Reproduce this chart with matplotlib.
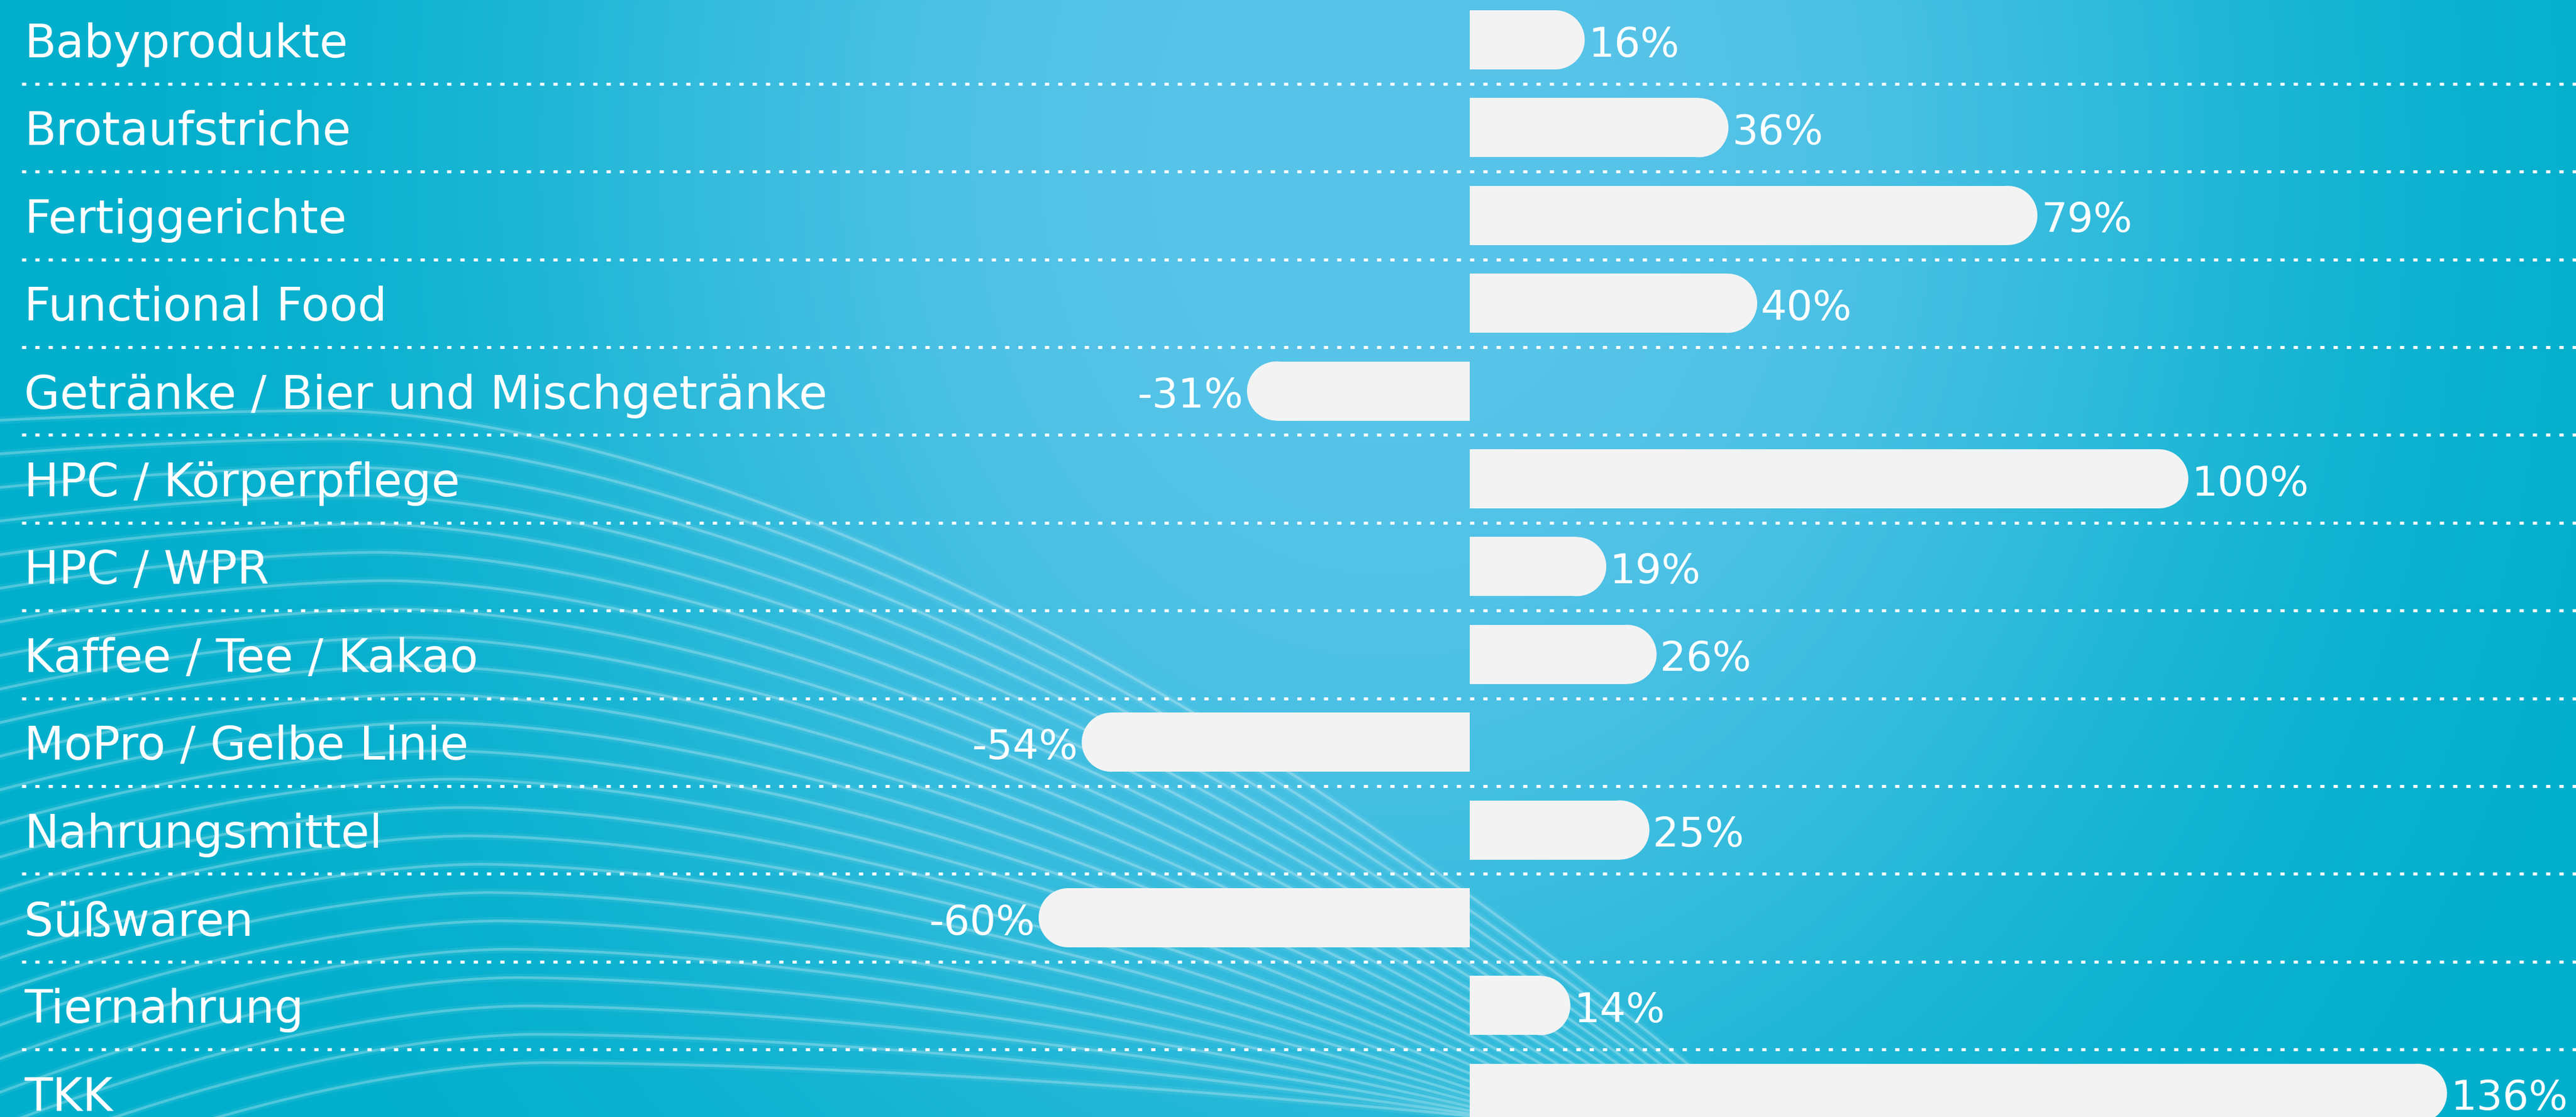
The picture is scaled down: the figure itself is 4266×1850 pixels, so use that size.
import numpy as np
import matplotlib.pyplot as plt
from matplotlib.patches import Ellipse

# 데이터
categories = ['Babyprodukte', 'Brotaufstriche', 'Fertiggerichte', 'Functional Food',
              'Getränke / Bier und Mischgetränke', 'HPC / Körperpflege', 'HPC / WPR',
              'Kaffee / Tee / Kakao', 'MoPro / Gelbe Linie', 'Nahrungsmittel',
              'Süßwaren', 'Tiernahrung', 'TKK']
values = [16, 36, 79, 40, -31, 100, 19, 26, -54, 25, -60, 14, 136]
value_labels = ['16%', '36%', '79%', '40%', '-31%', '100%', '19%', '26%', '-54%',
                '25%', '-60%', '14%', '136%']

W, H = 4266, 1850
DPI = 100
teal = np.array([0, 175, 204]) / 255
light = np.array([88, 196, 233]) / 255
bar_color = '#f3f3f3'
font = ['DejaVu Sans']

fig = plt.figure(figsize=(W / DPI, H / DPI), dpi=DPI)

# 배경 (그라데이션 + 곡선 장식)
bg = fig.add_axes([0, 0, 1, 1])
bg.set_xlim(0, W)
bg.set_ylim(H, 0)
bg.axis('off')
gx, gy = np.meshgrid(np.linspace(0, W, 427), np.linspace(0, H, 185))
d = ((gx - 2300) / 1400) ** 2 + ((gy - 250) / 1700) ** 2
w = np.exp(-d ** 1.5)
img = teal[None, None, :] + (light - teal)[None, None, :] * w[:, :, None]
bg.imshow(img, extent=(0, W, H, 0), aspect='auto', interpolation='bilinear', zorder=0)

# 장식용 곡선 (왼쪽 아래 물결)
n_curves = 24
xs = np.linspace(0, 3300, 900)
for k in range(n_curves):
    t = k / (n_curves - 1)
    c = 550 + 350 * t
    p = 680 + 1080 * t
    x_end = 2900 - 450 * t
    kr = (1850 - p) / (x_end - c) ** 1.7
    kl = (16 + 200 * t) / c ** 1.7
    u = xs - c
    ys = np.where(u > 0, p + kr * np.abs(u) ** 1.7, p + kl * np.abs(u) ** 1.7)
    bg.plot(xs, ys, color='white', alpha=0.07, lw=9, zorder=1)
    bg.plot(xs, ys, color='white', alpha=0.26, lw=3.2, zorder=1)

# 메인 차트
ax = fig.add_axes([0, 0, 1, 1])
ax.patch.set_alpha(0)
px_per_unit = 11.9
row_px = 145.4
zero_px = 2434
ax.set_xlim(-zero_px / px_per_unit, (W - zero_px) / px_per_unit)
ax.set_ylim((H - 66) / row_px, -66 / row_px)
ax.axis('off')

bar_h = 98 / row_px
rx = 49 / px_per_unit
y = np.arange(len(categories))

for yi, v, lab, cat in zip(y, values, value_labels, categories):
    s = np.sign(v)
    ax.barh(yi, v - s * rx, height=bar_h, color=bar_color, zorder=3)
    ax.add_patch(Ellipse((v - s * rx, yi), 2 * rx, bar_h, color=bar_color, lw=0, zorder=3))
    gap = 0.5
    ax.text(v + s * gap, yi + 0.19, lab, ha='left' if v > 0 else 'right', va='baseline',
            color='white', fontsize=49, family=font, zorder=4)
    ax.text(40 / W, yi + 0.2, cat, transform=ax.get_yaxis_transform(), ha='left',
            va='baseline', color='white', fontsize=55, family=font, zorder=4)

# 점선 구분선
for yi in y[:-1]:
    ax.axhline(yi + 0.5, xmin=36 / W, xmax=1, color='white', lw=3.6,
               linestyle=(0, (1.4, 3.0)), dash_capstyle='butt', zorder=2)

fig.savefig('out.png', dpi=DPI)
